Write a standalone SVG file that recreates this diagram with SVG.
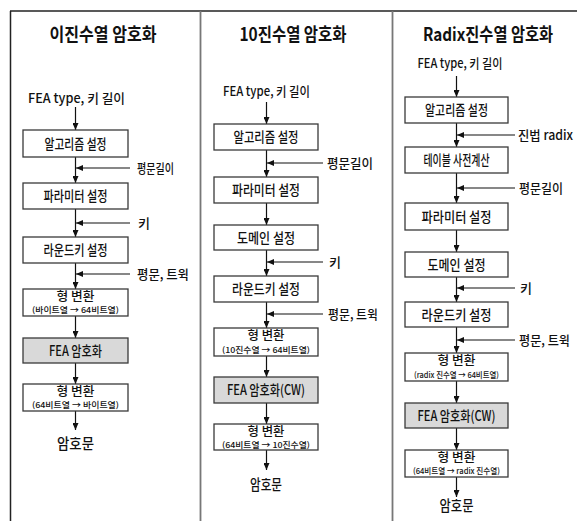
<svg xmlns="http://www.w3.org/2000/svg" width="577" height="521" viewBox="0 0 577 521">
<style>
text{font-family:"Noto Sans CJK KR","Noto Sans",sans-serif;fill:#111;}
.t{font-size:18px;font-weight:bold;text-anchor:middle;}
.b{font-size:14px;font-weight:500;text-anchor:middle;}
.h{font-size:12.5px;font-weight:500;text-anchor:middle;}
.s{font-size:8px;font-weight:500;text-anchor:middle;}
.l{font-size:13px;font-weight:500;}
.i{font-size:13px;font-weight:500;text-anchor:middle;}
.o{font-size:15px;font-weight:500;text-anchor:middle;}
.box{fill:#fff;stroke:#3a3a3a;stroke-width:1.3;}
.gray{fill:#d9d9d9;stroke:#3a3a3a;stroke-width:1.3;}
.c{stroke:#111;stroke-width:1.2;fill:none;marker-end:url(#ah);}
.frame{stroke:#222;stroke-width:1.5;fill:none;}
.sep{stroke:#777;stroke-width:1.8;fill:none;}
</style>
<defs>
<marker id="ah" markerUnits="userSpaceOnUse" markerWidth="7" markerHeight="6" refX="7" refY="3" orient="auto">
<path d="M0,0 L7,3 L0,6 z" fill="#111"/>
</marker>
</defs>
<rect width="577" height="521" fill="#fff"/>
<g id="frame">
<line class="frame" x1="10" y1="11" x2="577" y2="11"/>
<line class="frame" x1="10.5" y1="11" x2="10.5" y2="521"/>
<line class="sep" x1="200.5" y1="11" x2="200.5" y2="521"/>
<line class="sep" x1="392.5" y1="11" x2="392.5" y2="521"/>
</g>
<g id="titles">
<text class="t" x="103" y="41" textLength="107" lengthAdjust="spacingAndGlyphs">이진수열 암호화</text>
<text class="t" x="293" y="41" textLength="107" lengthAdjust="spacingAndGlyphs">10진수열 암호화</text>
<text class="t" x="488" y="41" textLength="130" lengthAdjust="spacingAndGlyphs">Radix진수열 암호화</text>
</g>
<g id="connectors">
<line class="c" x1="75.5" y1="107" x2="75.5" y2="130"/>
<line class="c" x1="75.5" y1="157" x2="75.5" y2="183"/>
<line class="c" x1="130" y1="168" x2="76" y2="168"/>
<line class="c" x1="75.5" y1="209" x2="75.5" y2="237"/>
<line class="c" x1="130" y1="223" x2="76" y2="223"/>
<line class="c" x1="75.5" y1="263" x2="75.5" y2="289"/>
<line class="c" x1="130" y1="274" x2="76" y2="274"/>
<line class="c" x1="75.5" y1="316" x2="75.5" y2="338"/>
<line class="c" x1="75.5" y1="363" x2="75.5" y2="384"/>
<line class="c" x1="75.5" y1="411" x2="75.5" y2="430"/>
<line class="c" x1="266.5" y1="102" x2="266.5" y2="124"/>
<line class="c" x1="266.5" y1="150" x2="266.5" y2="177"/>
<line class="c" x1="323" y1="163" x2="267" y2="163"/>
<line class="c" x1="266.5" y1="203" x2="266.5" y2="225"/>
<line class="c" x1="266.5" y1="250" x2="266.5" y2="276"/>
<line class="c" x1="323" y1="262" x2="267" y2="262"/>
<line class="c" x1="266.5" y1="302" x2="266.5" y2="328"/>
<line class="c" x1="323" y1="314" x2="267" y2="314"/>
<line class="c" x1="266.5" y1="356" x2="266.5" y2="377"/>
<line class="c" x1="266.5" y1="403" x2="266.5" y2="424"/>
<line class="c" x1="266.5" y1="450" x2="266.5" y2="470"/>
<line class="c" x1="456.5" y1="76" x2="456.5" y2="97"/>
<line class="c" x1="456.5" y1="123" x2="456.5" y2="147"/>
<line class="c" x1="515" y1="135" x2="457" y2="135"/>
<line class="c" x1="456.5" y1="173" x2="456.5" y2="203"/>
<line class="c" x1="515" y1="188" x2="457" y2="188"/>
<line class="c" x1="456.5" y1="230" x2="456.5" y2="252"/>
<line class="c" x1="456.5" y1="277" x2="456.5" y2="302"/>
<line class="c" x1="515" y1="288" x2="457" y2="288"/>
<line class="c" x1="456.5" y1="327" x2="456.5" y2="353"/>
<line class="c" x1="515" y1="340" x2="457" y2="340"/>
<line class="c" x1="456.5" y1="381" x2="456.5" y2="403"/>
<line class="c" x1="456.5" y1="428" x2="456.5" y2="450"/>
<line class="c" x1="456.5" y1="477" x2="456.5" y2="497"/>
</g>
<g id="labels">
<text class="i" x="76.5" y="102.5" textLength="97" lengthAdjust="spacingAndGlyphs">FEA type, 키 길이</text>
<text class="l" x="137" y="172.5" textLength="37" lengthAdjust="spacingAndGlyphs">평문길이</text>
<text class="l" x="138" y="227.5">키</text>
<text class="l" x="137" y="278.5" textLength="52" lengthAdjust="spacingAndGlyphs">평문, 트윅</text>
<text class="o" x="75.5" y="449" textLength="37" lengthAdjust="spacingAndGlyphs">암호문</text>
<text class="i" x="266.5" y="96" textLength="87" lengthAdjust="spacingAndGlyphs">FEA type, 키 길이</text>
<text class="l" x="327" y="167.5" textLength="46" lengthAdjust="spacingAndGlyphs">평문길이</text>
<text class="l" x="329" y="266.5">키</text>
<text class="l" x="328" y="318.5" textLength="50" lengthAdjust="spacingAndGlyphs">평문, 트윅</text>
<text class="o" x="266" y="490" textLength="32" lengthAdjust="spacingAndGlyphs">암호문</text>
<text class="i" x="460" y="68" textLength="85" lengthAdjust="spacingAndGlyphs">FEA type, 키 길이</text>
<text class="l" x="518" y="139.5" textLength="55" lengthAdjust="spacingAndGlyphs">진법 radix</text>
<text class="l" x="519" y="192.5" textLength="44" lengthAdjust="spacingAndGlyphs">평문길이</text>
<text class="l" x="520" y="292.5">키</text>
<text class="l" x="519" y="344.5" textLength="51" lengthAdjust="spacingAndGlyphs">평문, 트윅</text>
<text class="o" x="456.5" y="511" textLength="34" lengthAdjust="spacingAndGlyphs">암호문</text>
</g>
<g id="c1-algo"><rect class="box" x="23" y="130" width="105" height="27"/><text class="b" x="75.5" y="148.5" textLength="62" lengthAdjust="spacingAndGlyphs">알고리즘 설정</text></g>
<g id="c1-param"><rect class="box" x="23" y="183" width="105" height="26"/><text class="b" x="75.5" y="201" textLength="64" lengthAdjust="spacingAndGlyphs">파라미터 설정</text></g>
<g id="c1-round"><rect class="box" x="23" y="237" width="105" height="26"/><text class="b" x="75.5" y="255" textLength="64" lengthAdjust="spacingAndGlyphs">라운드키 설정</text></g>
<g id="c1-conv1"><rect class="box" x="23" y="289" width="105" height="27"/><text class="h" x="75.5" y="300.5" textLength="38" lengthAdjust="spacingAndGlyphs">형 변환</text><text class="s" x="75.5" y="312.5" textLength="87" lengthAdjust="spacingAndGlyphs">(바이트열 → 64비트열)</text></g>
<g id="c1-fea"><rect class="gray" x="23" y="338" width="105" height="25"/><text class="b" x="75.5" y="355.5" textLength="53" lengthAdjust="spacingAndGlyphs">FEA 암호화</text></g>
<g id="c1-conv2"><rect class="box" x="23" y="384" width="105" height="27"/><text class="h" x="75.5" y="395.5" textLength="38" lengthAdjust="spacingAndGlyphs">형 변환</text><text class="s" x="75.5" y="407.5" textLength="87" lengthAdjust="spacingAndGlyphs">(64비트열 → 바이트열)</text></g>
<g id="c2-algo"><rect class="box" x="214" y="124" width="104" height="26"/><text class="b" x="266" y="142" textLength="65" lengthAdjust="spacingAndGlyphs">알고리즘 설정</text></g>
<g id="c2-param"><rect class="box" x="214" y="177" width="104" height="26"/><text class="b" x="266" y="195" textLength="68" lengthAdjust="spacingAndGlyphs">파라미터 설정</text></g>
<g id="c2-domain"><rect class="box" x="214" y="225" width="104" height="25"/><text class="b" x="266" y="242.5" textLength="58" lengthAdjust="spacingAndGlyphs">도메인 설정</text></g>
<g id="c2-round"><rect class="box" x="214" y="276" width="104" height="26"/><text class="b" x="266" y="294" textLength="68" lengthAdjust="spacingAndGlyphs">라운드키 설정</text></g>
<g id="c2-conv1"><rect class="box" x="214" y="328" width="104" height="28"/><text class="h" x="266" y="340" textLength="37" lengthAdjust="spacingAndGlyphs">형 변환</text><text class="s" x="266" y="352.5" textLength="88" lengthAdjust="spacingAndGlyphs">(10진수열 → 64비트열)</text></g>
<g id="c2-fea"><rect class="gray" x="214" y="377" width="104" height="26"/><text class="b" x="266" y="395" textLength="78" lengthAdjust="spacingAndGlyphs">FEA 암호화(CW)</text></g>
<g id="c2-conv2"><rect class="box" x="214" y="424" width="104" height="26"/><text class="h" x="266" y="435.5" textLength="37" lengthAdjust="spacingAndGlyphs">형 변환</text><text class="s" x="266" y="447.5" textLength="88" lengthAdjust="spacingAndGlyphs">(64비트열 → 10진수열)</text></g>
<g id="c3-algo"><rect class="box" x="405" y="97" width="103" height="26"/><text class="b" x="456.5" y="115" textLength="63" lengthAdjust="spacingAndGlyphs">알고리즘 설정</text></g>
<g id="c3-table"><rect class="box" x="405" y="147" width="103" height="26"/><text class="b" x="456.5" y="165" textLength="66" lengthAdjust="spacingAndGlyphs">테이블 사전계산</text></g>
<g id="c3-param"><rect class="box" x="405" y="203" width="103" height="27"/><text class="b" x="456.5" y="221.5" textLength="70" lengthAdjust="spacingAndGlyphs">파라미터 설정</text></g>
<g id="c3-domain"><rect class="box" x="405" y="252" width="103" height="25"/><text class="b" x="456.5" y="269.5" textLength="58" lengthAdjust="spacingAndGlyphs">도메인 설정</text></g>
<g id="c3-round"><rect class="box" x="405" y="302" width="103" height="25"/><text class="b" x="456.5" y="319.5" textLength="70" lengthAdjust="spacingAndGlyphs">라운드키 설정</text></g>
<g id="c3-conv1"><rect class="box" x="405" y="353" width="103" height="28"/><text class="h" x="456.5" y="365" textLength="38" lengthAdjust="spacingAndGlyphs">형 변환</text><text class="s" x="456.5" y="377.5" textLength="85" lengthAdjust="spacingAndGlyphs">(radix 진수열 → 64비트열)</text></g>
<g id="c3-fea"><rect class="gray" x="405" y="403" width="103" height="25"/><text class="b" x="456.5" y="420.5" textLength="78" lengthAdjust="spacingAndGlyphs">FEA 암호화(CW)</text></g>
<g id="c3-conv2"><rect class="box" x="405" y="450" width="103" height="27"/><text class="h" x="456.5" y="461.5" textLength="38" lengthAdjust="spacingAndGlyphs">형 변환</text><text class="s" x="456.5" y="474" textLength="87" lengthAdjust="spacingAndGlyphs">(64비트열 → radix 진수열)</text></g>
</svg>
